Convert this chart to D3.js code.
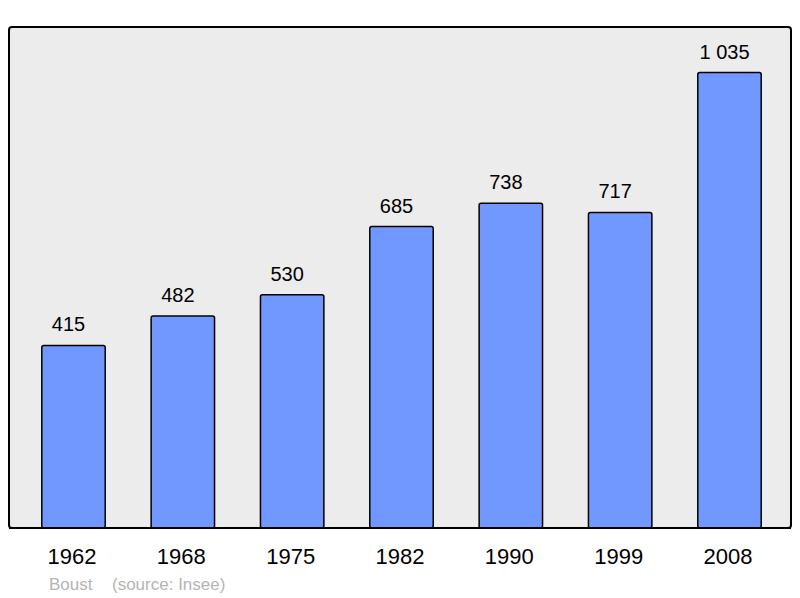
<!DOCTYPE html>
<html>
<head>
<meta charset="utf-8">
<script src="https://cdn.jsdelivr.net/npm/d3@7"></script>
<style>
  body { margin: 0; background: #fff; }
  text { font-family: "Liberation Sans", Arial, sans-serif; }
</style>
</head>
<body>
<svg id="chart" width="800" height="598"></svg>
<script>
// population data
const years = ["1962", "1968", "1975", "1982", "1990", "1999", "2008"];
const population = [415, 482, 530, 685, 738, 717, 1035];
const commune = "Boust";
const source = "(source: Insee)";

let LEFT = 9, RIGHT = 791, TOP = 27, BOTTOM = 528;

let svg = d3.select('#chart');

let fmt = d3.formatLocale({decimal: ",", thousands: "\u00a0", grouping: [3], currency: ["", " €"]}).format(",d");

let data = years.map((y, i) => ({year: y, value: population[i]}));

let xScale = d3.scaleBand()
    .domain(years)
    .range([LEFT, RIGHT + 3])
    .paddingInner(0.42)
    .paddingOuter(0.3);

let yScale = d3.scaleLinear()
    .domain([0, d3.max(population) * 1.1])
    .range([BOTTOM, TOP]);

// background panel
svg.append('rect')
    .attr('x', LEFT)
    .attr('y', TOP)
    .attr('width', RIGHT - LEFT)
    .attr('height', BOTTOM - TOP)
    .attr('rx', 3)
    .attr('fill', '#ececec')
    .attr('stroke', '#000')
    .attr('stroke-width', 2);

// bars
svg.append('g')
    .selectAll('rect')
    .data(data)
    .join('rect')
    .attr('x', d => xScale(d.year))
    .attr('y', d => yScale(d.value))
    .attr('width', xScale.bandwidth())
    .attr('height', d => BOTTOM - yScale(d.value))
    .attr('rx', 2)
    .attr('fill', '#7098ff')
    .attr('stroke', '#000')
    .attr('stroke-width', 1.5);

// bottom edge redrawn over bars
svg.append('line')
    .attr('x1', LEFT).attr('x2', RIGHT)
    .attr('y1', BOTTOM).attr('y2', BOTTOM)
    .attr('stroke', '#000')
    .attr('stroke-width', 2);

// value labels (sit a little left of bar centre, as in the original)
svg.append('g')
    .selectAll('text')
    .data(data)
    .join('text')
    .attr('x', d => xScale(d.year) + xScale.bandwidth() / 2 - 5)
    .attr('y', d => yScale(d.value) - 14)
    .attr('text-anchor', 'middle')
    .attr('font-size', 20)
    .attr('fill', '#000')
    .text(d => fmt(d.value));

// x axis labels
let xAxis = svg.append('g')
    .attr('transform', `translate(-1.5,${BOTTOM})`)
    .call(d3.axisBottom(xScale).tickSize(0).tickPadding(20));
xAxis.select('.domain').remove();
xAxis.selectAll('text')
    .attr('font-size', 22)
    .attr('font-family', '"Liberation Sans", Arial, sans-serif')
    .attr('fill', '#000');

// footer
svg.append('text')
    .attr('x', 49)
    .attr('y', 590)
    .attr('font-size', 17)
    .attr('fill', '#b4b4b4')
    .text(commune);
svg.append('text')
    .attr('x', 112)
    .attr('y', 590)
    .attr('font-size', 17)
    .attr('fill', '#b4b4b4')
    .text(source);
</script>
</body>
</html>
